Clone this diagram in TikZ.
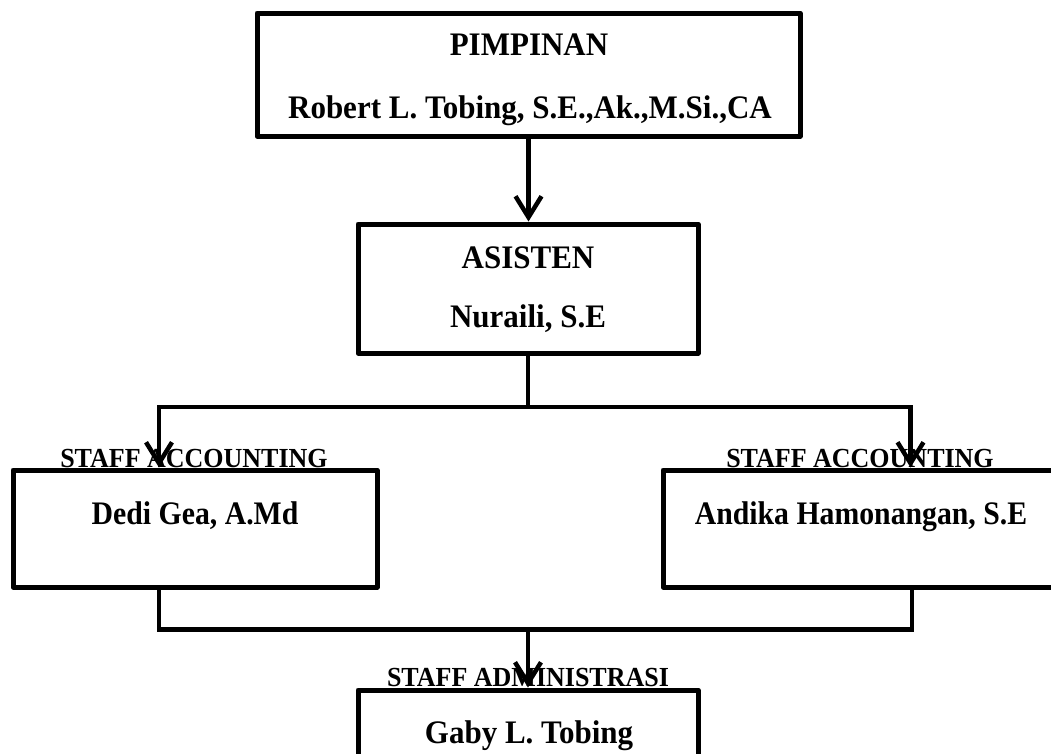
\documentclass[tikz,border=0pt]{standalone}
\usepackage{fontspec}
\setmainfont{Liberation Serif}
\usetikzlibrary{arrows.meta}
\begin{document}
\begin{tikzpicture}[x=1pt,y=-1pt,
  box/.style={draw,line width=5pt,inner sep=0pt,line join=round},
  conn/.style={line width=4.5pt,line join=miter},
  arr/.style={conn,-{Straight Barb[length=21pt,width=26pt]}},
  nametxt/.style={anchor=base,inner sep=0pt,font=\bfseries\fontsize{31}{36}\selectfont},
  labtxt/.style={anchor=base,inner sep=0pt,font=\bfseries\fontsize{26}{30}\selectfont}]
\useasboundingbox (0,0) rectangle (1051,753);
\clip (0,0) rectangle (1051,753);
\fill[white] (0,0) rectangle (1051,753);
% boxes
\node[box,minimum width=543pt,minimum height=123pt] (top) at (528.5,74.5) {};
\node[box,minimum width=340pt,minimum height=129pt] (asis) at (528,288.5) {};
\node[box,minimum width=364pt,minimum height=117pt] (lbox) at (195,528.5) {};
\node[box,minimum width=397pt,minimum height=117pt] (rbox) at (861.5,528.5) {};
\node[box,minimum width=340pt,minimum height=130pt] (bot) at (528,755) {};
% texts
\node[nametxt] (t1) at (529,55) {\scalebox{1}[1.06]{PIMPINAN}};
\node[nametxt] (t2) at (530,118) {\scalebox{1}[1.06]{Robert L. Tobing, S.E.,Ak.,M.Si.,CA}};
\node[nametxt] (a1) at (528,268) {\scalebox{1}[1.06]{ASISTEN}};
\node[nametxt] (a2) at (528,327) {\scalebox{1}[1.06]{Nuraili, S.E}};
\node[nametxt] (l1) at (195,524) {\scalebox{0.96}[1.06]{Dedi Gea, A.Md}};
\node[nametxt] (r1) at (861,524) {\scalebox{0.96}[1.06]{Andika Hamonangan, S.E}};
\node[nametxt] (b1) at (529,743) {\scalebox{1}[1.06]{Gaby L. Tobing}};
% connectors
\coordinate (j1) at (528,407);
\coordinate (j2) at (528,627);
\draw[arr] (top.south) -- (top.south |- asis.north);
\draw[conn] (asis.south) -- (j1);
\draw[arr] (j1) -| ([xshift=-36pt]lbox.north);
\draw[arr] (j1) -| ([xshift=49pt]rbox.north);
\draw[conn] ([xshift=-36pt]lbox.south) -- ++(0,40) -| ([xshift=50.5pt]rbox.south);
\draw[arr] (j2) -- (j2 |- bot.north);
% staff labels (drawn over lines)
\node[labtxt] (l0) at (194,467) {\scalebox{1}[1.06]{STAFF ACCOUNTING}};
\node[labtxt] (r0) at (860,467) {\scalebox{1}[1.06]{STAFF ACCOUNTING}};
\node[labtxt] (b0) at (528,686) {\scalebox{1}[1.06]{STAFF ADMINISTRASI}};
\end{tikzpicture}
\end{document}
